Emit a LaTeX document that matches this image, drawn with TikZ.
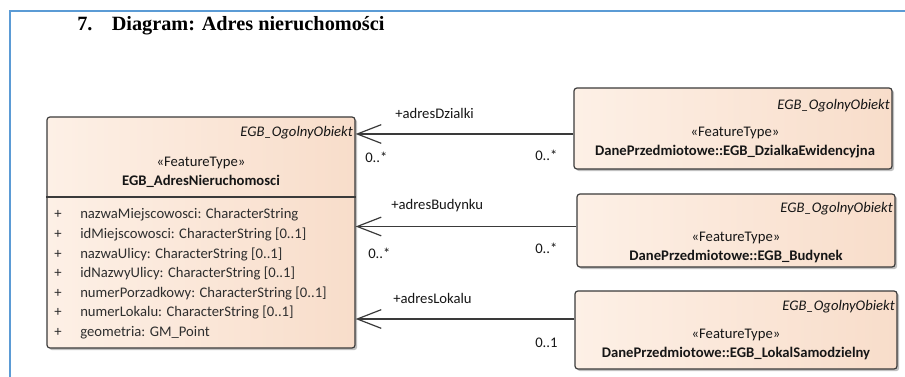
\documentclass[tikz,border=0pt]{standalone}
\usepackage{fontspec}
\setmainfont{Carlito}
\newfontfamily\titlefont{Liberation Serif}
\usetikzlibrary{arrows.meta,shadows}
\definecolor{frameblue}{HTML}{5B9BD5}
\definecolor{peachL}{HTML}{FDF0E6}
\definecolor{peachR}{HTML}{F8DDCA}
\definecolor{edgegray}{HTML}{3A3A3A}
\definecolor{txt}{HTML}{161616}
\definecolor{attrtxt}{HTML}{2E2E2E}
\tikzset{
  umlbox/.style={draw=edgegray, line width=0.9pt, rounded corners=2.2pt,
    left color=peachL, right color=peachR, inner sep=0pt,
    drop shadow={shadow xshift=1.6pt, shadow yshift=-1.6pt, opacity=0.35, fill=black!70}},
  lbl/.style={inner sep=0pt, font=\fontsize{11pt}{13pt}\selectfont, text=txt},
  ital/.style={lbl, font=\fontsize{11pt}{13pt}\selectfont\itshape},
  bold/.style={lbl, font=\fontsize{11pt}{13pt}\selectfont\bfseries},
  attr/.style={lbl, text=attrtxt},
  assoc/.style={draw=edgegray, line width=0.9pt,
    -{Straight Barb[length=18pt, width=14pt]}},
}
\begin{document}
\begin{tikzpicture}[x=0.75pt, y=-0.75pt]
\useasboundingbox (0,0) rectangle (905,377);
% frame
\draw[frameblue, line width=1.5pt] (9.5,377) -- (9.5,11) -- (905,11);
% title
\node[inner sep=0pt, anchor=base west, font=\titlefont\fontsize{15.2pt}{18pt}\selectfont\bfseries] (title) at (77,31) {7.\hspace{14.5pt}Diagram: Adres nieruchomości};

% left class
\node[umlbox, minimum width=231pt, minimum height=173.25pt] (adr) at (201,232.5) {};
\draw[edgegray, line width=0.9pt] (adr.west |- 0,197) -- (adr.east |- 0,197);
\node[ital, anchor=base east] (adrpar) at (353,137) {EGB\_OgolnyObiekt};
\node[lbl, anchor=base] (adrst) at (201,167) {«FeatureType»};
\node[bold, anchor=base] (adrnm) at (201,186) {EGB\_AdresNieruchomosci};
\foreach \i/\t/\yy in {1/nazwaMiejscowosci: CharacterString/219,
  2/idMiejscowosci: CharacterString [0..1]/238.5,
  3/nazwaUlicy: CharacterString [0..1]/258,
  4/idNazwyUlicy: CharacterString [0..1]/277.5,
  5/numerPorzadkowy: CharacterString [0..1]/297,
  6/numerLokalu: CharacterString [0..1]/316.5,
  7/geometria: GM\_Point/336}{
  \node[attr, anchor=base] (p\i) at (58,\yy) {+};
  \node[attr, anchor=base west] (a\i) at (80,\yy) {\t};
}

% right classes
\node[umlbox, minimum width=238.5pt, minimum height=60.75pt] (b1) at (733,128.5) {};
\node[ital, anchor=base east] (b1par) at (890,110) {EGB\_OgolnyObiekt};
\node[lbl, anchor=base] (b1st) at (735,137) {«FeatureType»};
\node[bold, anchor=base] (b1nm) at (735,156) {DanePrzedmiotowe::EGB\_DzialkaEwidencyjna};

\node[umlbox, minimum width=238.5pt, minimum height=54.75pt] (b2) at (736,230.5) {};
\node[ital, anchor=base east] (b2par) at (893,213) {EGB\_OgolnyObiekt};
\node[lbl, anchor=base] (b2st) at (736,242) {«FeatureType»};
\node[bold, anchor=base] (b2nm) at (736,261) {DanePrzedmiotowe::EGB\_Budynek};

\node[umlbox, minimum width=241.5pt, minimum height=58.5pt] (b3) at (736,330) {};
\node[ital, anchor=base east] (b3par) at (895,310) {EGB\_OgolnyObiekt};
\node[lbl, anchor=base] (b3st) at (736,338) {«FeatureType»};
\node[bold, anchor=base] (b3nm) at (736,357) {DanePrzedmiotowe::EGB\_LokalSamodzielny};

% associations
\draw[assoc] (b1.west |- 0,134) -- (adr.east |- 0,134);
\draw[assoc] (b2.west |- 0,226.5) -- (adr.east |- 0,226.5);
\draw[assoc] (b3.west |- 0,319) -- (adr.east |- 0,319);

% association labels
\node[lbl, anchor=base west] (r1) at (395,119) {+adresDzialki};
\node[lbl, anchor=base west] (m1l) at (365,163) {0..*};
\node[lbl, anchor=base west] (m1r) at (535,161) {0..*};
\node[lbl, anchor=base west] (r2) at (391,210) {+adresBudynku};
\node[lbl, anchor=base west] (m2l) at (368,258) {0..*};
\node[lbl, anchor=base west] (m2r) at (535,253) {0..*};
\node[lbl, anchor=base west] (r3) at (393,303) {+adresLokalu};
\node[lbl, anchor=base west] (m3r) at (535,347) {0..1};
\end{tikzpicture}
\end{document}
